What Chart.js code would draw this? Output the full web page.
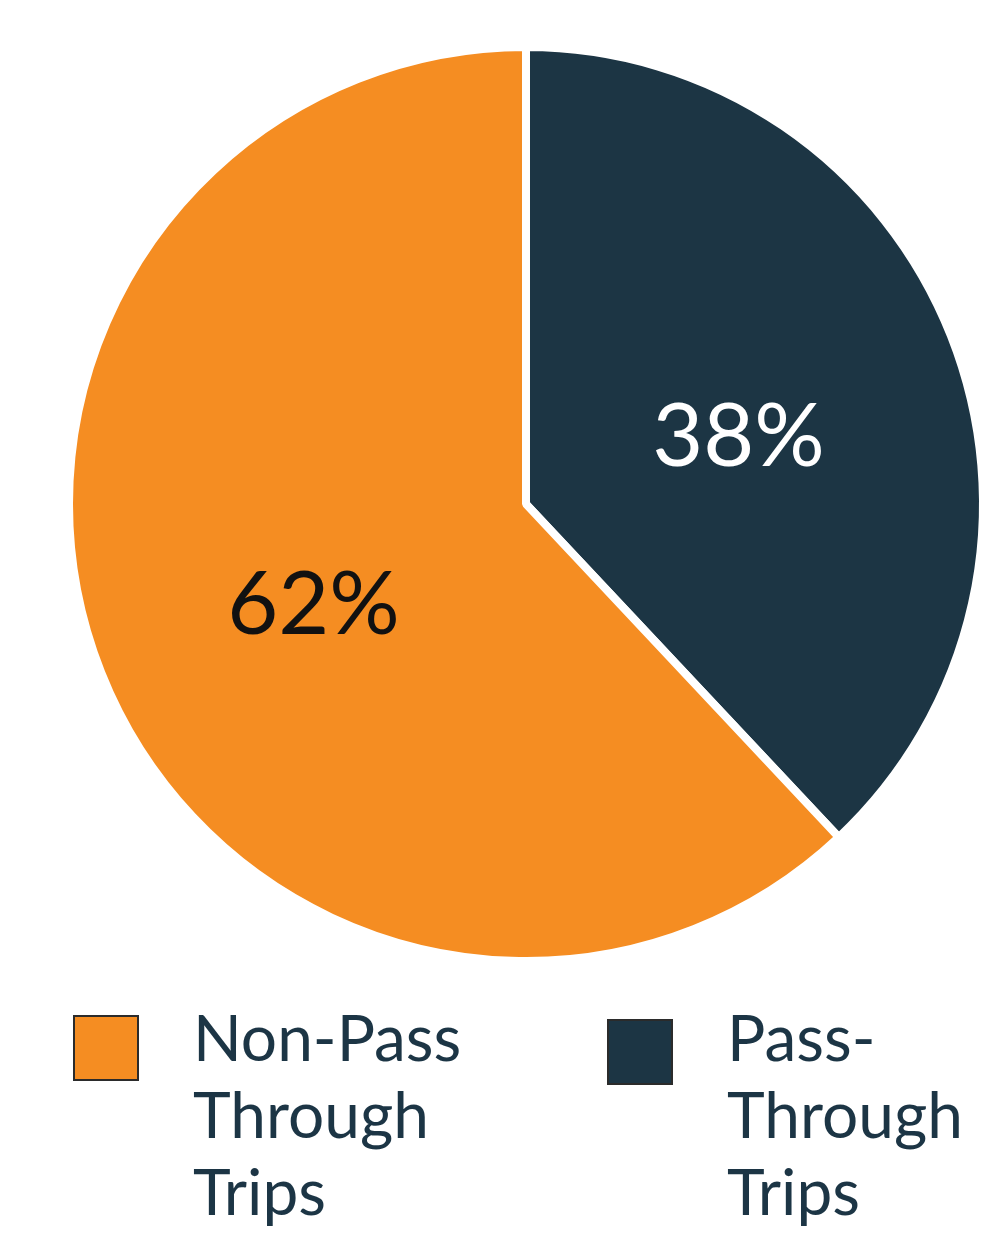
<!DOCTYPE html>
<html>
<head>
<meta charset="utf-8">
<script src="https://cdn.jsdelivr.net/npm/chart.js@4.4.0/dist/chart.umd.min.js"></script>
<style>
    body { margin: 0; background: #fff; width: 999px; height: 1238px; position: relative; overflow: hidden; }
    #wrap { position: absolute; left: 0; top: 0; width: 999px; height: 1008px; }
    .box { position: absolute; width: 62px; height: 62px; border: 2px solid #2b2b2b; }
    .txt { position: absolute; font-family: Lato, sans-serif; font-size: 64px; line-height: 77px; color: #1c3545; white-space: nowrap; }
</style>
</head>
<body>
<div id="wrap"><canvas id="pie"></canvas></div>
<div id="legend"></div>
<script>
// data
const categories = ["Pass-Through Trips", "Non-Pass Through Trips"]
const shares = [38, 62]
const sliceColors = ["#1c3544", "#f58d22"]
const labelColors = ["#ffffff", "#111111"]
// legend is shown orange first, text broken the way the original does it
const legendOrder = [1, 0]
const legendLines = {
    "Non-Pass Through Trips": ["Non-Pass", "Through", "Trips"],
    "Pass-Through Trips": ["Pass-", "Through", "Trips"]
}

const pctLabels = {
    id: "pctLabels",
    afterDatasetsDraw(chart) {
        let ctx = chart.ctx
        let meta = chart.getDatasetMeta(0)
        ctx.save()
        ctx.font = "88px Lato, sans-serif"
        ctx.textAlign = "center"
        ctx.textBaseline = "alphabetic"
        meta.data.forEach(function (arc, i) {
            let p = arc.tooltipPosition()
            ctx.fillStyle = labelColors[i]
            // nudge so the digits sit on the slice midpoint like the original
            ctx.fillText(shares[i] + "%", p.x, p.y + 46)
        })
        ctx.restore()
    }
}

new Chart(document.getElementById("pie"), {
    type: "pie",
    data: {
        labels: categories,
        datasets: [{
            data: shares,
            backgroundColor: sliceColors,
            borderColor: "#ffffff",
            borderWidth: 8
        }]
    },
    options: {
        responsive: true,
        maintainAspectRatio: false,
        animation: false,
        radius: 457,
        layout: { padding: { left: 53, right: 0, top: 0, bottom: 0 } },
        plugins: {
            legend: { display: false },
            tooltip: { enabled: false }
        }
    },
    plugins: [pctLabels]
})

// legend
let legendBox = document.getElementById("legend")
let spots = [{ bx: 73, by: 1015, tx: 193, ty: 998 }, { bx: 607, by: 1019, tx: 727, ty: 998 }]
legendOrder.forEach(function (idx, n) {
    let b = document.createElement("div")
    b.className = "box"
    b.style.left = spots[n].bx + "px"
    b.style.top = spots[n].by + "px"
    b.style.background = sliceColors[idx]
    legendBox.appendChild(b)
    let t = document.createElement("div")
    t.className = "txt"
    t.style.left = spots[n].tx + "px"
    t.style.top = spots[n].ty + "px"
    t.innerHTML = legendLines[categories[idx]].join("<br>")
    legendBox.appendChild(t)
})
</script>
</body>
</html>
